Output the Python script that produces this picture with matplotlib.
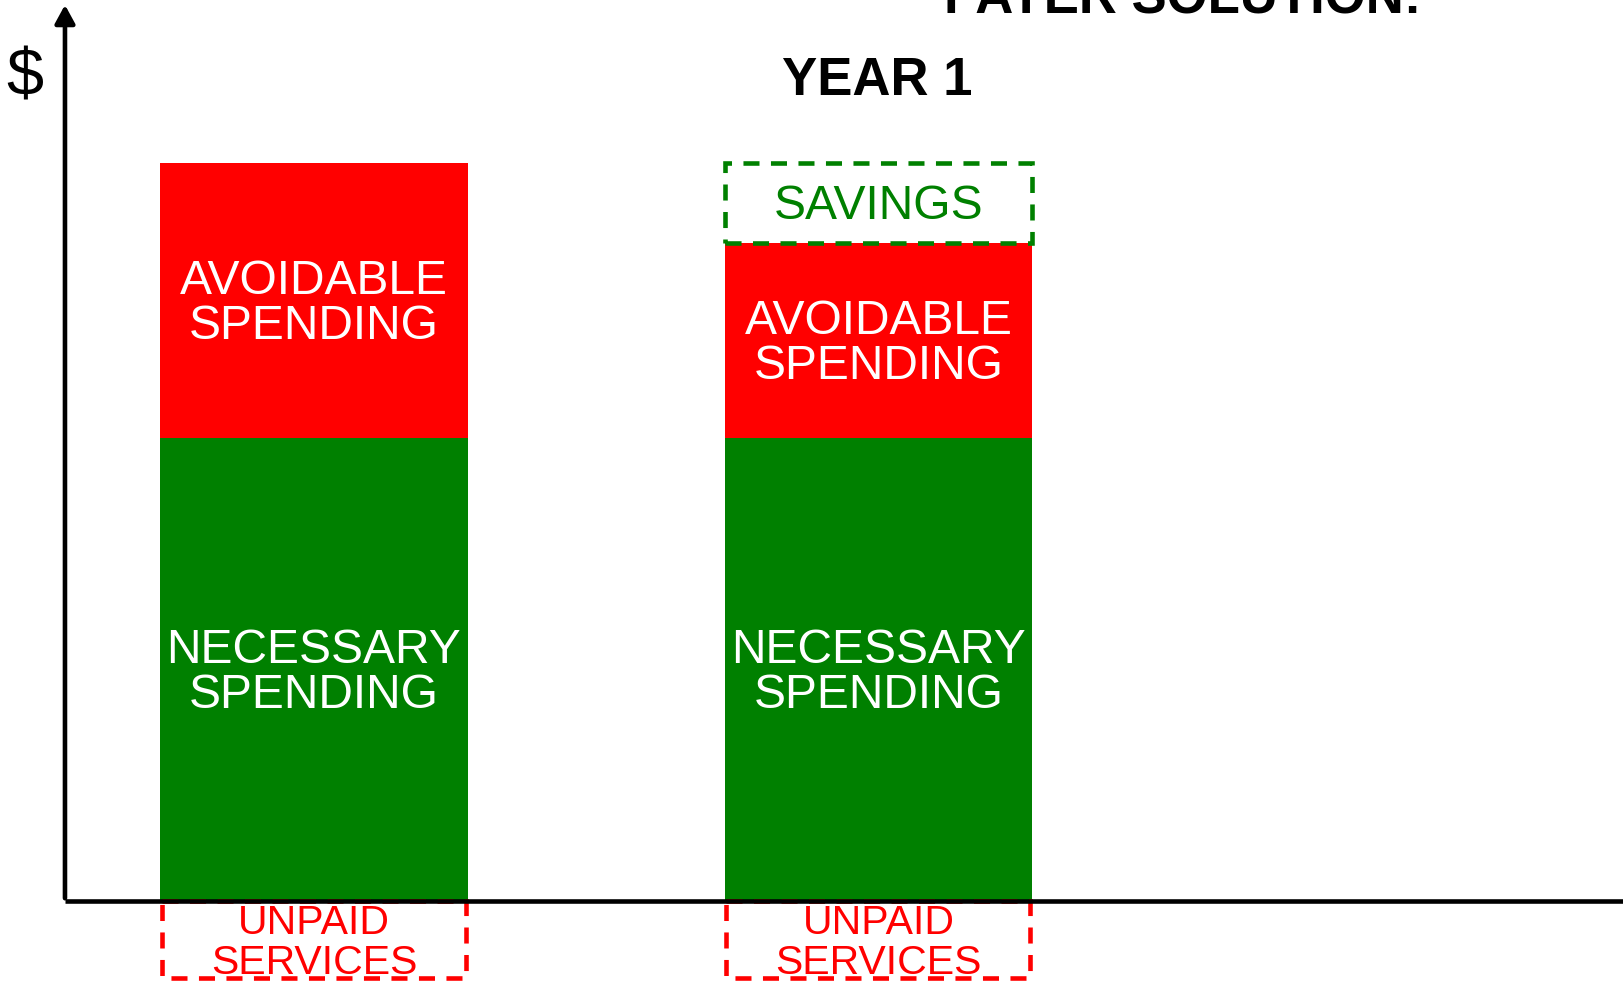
import matplotlib.pyplot as plt
from matplotlib.patches import FancyArrowPatch
from matplotlib.transforms import offset_copy

plt.rcParams['font.family'] = ['Liberation Sans', 'DejaVu Sans']

# values as % of the year-0 total
cats = [0, 1]
necessary = [62.7, 62.7]
avoidable = [37.3, 26.4]
savings = [0, 10.9]
unpaid = [10.5, 10.5]

RED = "#ff0000"
GREEN = "#008000"

fig = plt.figure(figsize=(16.24, 9.83), dpi=100)
ax = fig.add_axes([0, 0, 1, 1])
ax.set_xlim(-0.5562, 2.3207)
ax.set_ylim(-11.11, 122.09)
ax.axis("off")

w = 0.544
dash = (0, (3.5, 2.5))
lw = 3.3
# labels sit a touch lower than the geometric centre
tr = offset_copy(ax.transData, fig=fig, y=-2.5, units="points")

ax.bar(cats, necessary, width=w, color=GREEN, zorder=2)
ax.bar(cats, avoidable, width=w, bottom=necessary, color=RED, zorder=2)

tops = [n + a for n, a in zip(necessary, avoidable)]
ax.bar(cats[1], savings[1], width=w, bottom=tops[1], fill=False,
       edgecolor=GREEN, linewidth=lw, linestyle=dash, zorder=3)
ax.bar(cats, [-u for u in unpaid], width=w * 0.99, fill=False,
       edgecolor=RED, linewidth=lw, linestyle=dash, zorder=3)

for i in cats:
    ax.text(i, necessary[i] / 2, "NECESSARY\nSPENDING", color="white",
            fontsize=34.6, ha="center", va="center", linespacing=1.0,
            zorder=4, transform=tr)
    ax.text(i, necessary[i] + avoidable[i] / 2, "AVOIDABLE\nSPENDING", color="white",
            fontsize=34.6, ha="center", va="center", linespacing=1.0,
            zorder=4, transform=tr)
    ax.text(i, -unpaid[i] / 2, "UNPAID\nSERVICES", color=RED,
            fontsize=29.5, ha="center", va="center", linespacing=1.05,
            zorder=4, transform=tr)
ax.text(1, tops[1] + savings[1] / 2, "SAVINGS", color=GREEN,
        fontsize=34.6, ha="center", va="center", zorder=4, transform=tr)

# axes
x_axis = -0.4411
ax.plot([x_axis, 2.3207], [0, 0], color="black", lw=lw, zorder=5,
        solid_capstyle="butt")
arrow = FancyArrowPatch((x_axis, 0), (x_axis, 121.8),
                        arrowstyle="-|>,head_length=0.55,head_width=0.3",
                        mutation_scale=20, color="black", lw=lw, zorder=5)
ax.add_patch(arrow)

fig.text(25 / 1624, 1 - 78 / 983, "$", fontsize=48, ha="center", va="center")
fig.text(877 / 1624, 1 - 95 / 983, "YEAR 1", fontsize=38, fontweight="bold",
         ha="center", va="baseline")
fig.text(1183 / 1624, 1 - 13.5 / 983, "PAYER SOLUTION:", fontsize=38,
         fontweight="bold", ha="center", va="baseline")

fig.savefig("out.png", dpi=100)
